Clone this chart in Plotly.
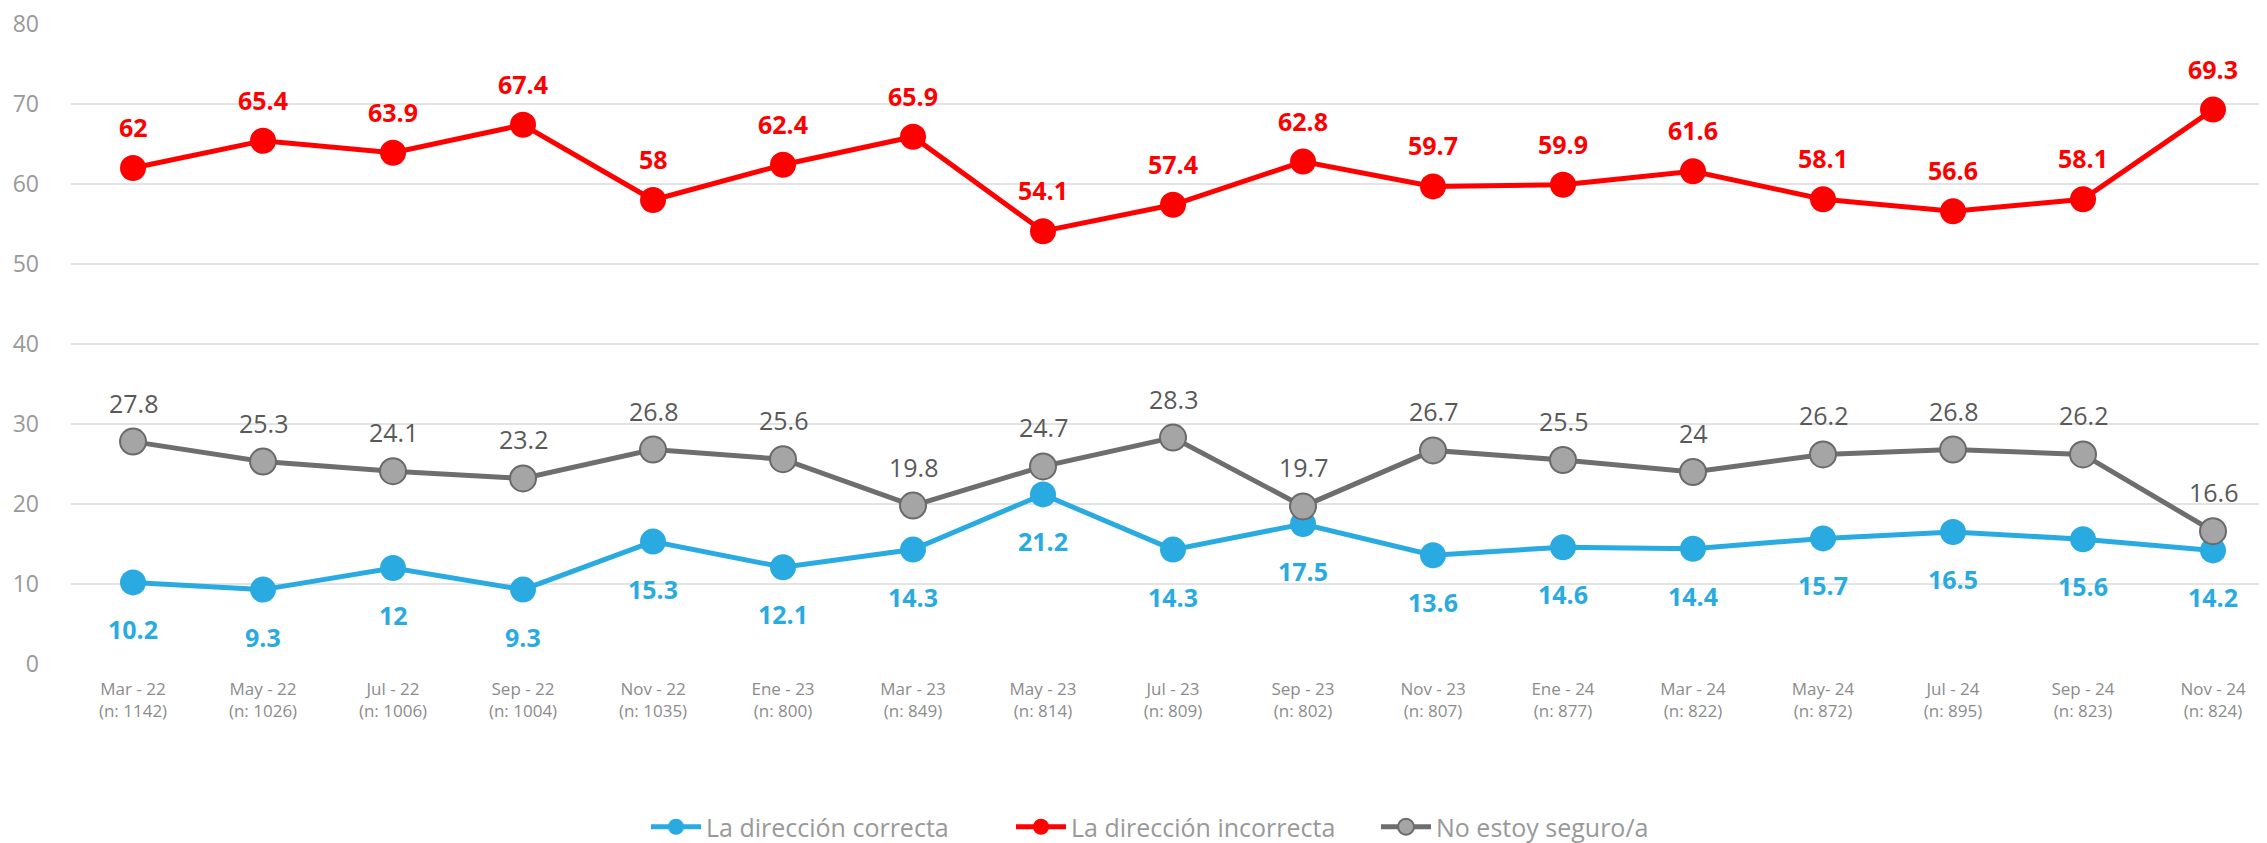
import plotly.graph_objects as go

categories = ["Mar - 22<br>(n: 1142)", "May - 22<br>(n: 1026)", "Jul - 22<br>(n: 1006)", "Sep - 22<br>(n: 1004)",
              "Nov - 22<br>(n: 1035)", "Ene - 23<br>(n: 800)", "Mar - 23<br>(n: 849)", "May - 23<br>(n: 814)",
              "Jul - 23<br>(n: 809)", "Sep - 23<br>(n: 802)", "Nov - 23<br>(n: 807)", "Ene - 24<br>(n: 877)",
              "Mar - 24<br>(n: 822)", "May- 24<br>(n: 872)", "Jul - 24<br>(n: 895)", "Sep - 24<br>(n: 823)",
              "Nov - 24<br>(n: 824)"]
correcta = [10.2, 9.3, 12, 9.3, 15.3, 12.1, 14.3, 21.2, 14.3, 17.5, 13.6, 14.6, 14.4, 15.7, 16.5, 15.6, 14.2]
incorrecta = [62, 65.4, 63.9, 67.4, 58, 62.4, 65.9, 54.1, 57.4, 62.8, 59.7, 59.9, 61.6, 58.1, 56.6, 58.1, 69.3]
no_seguro = [27.8, 25.3, 24.1, 23.2, 26.8, 25.6, 19.8, 24.7, 28.3, 19.7, 26.7, 25.5, 24, 26.2, 26.8, 26.2, 16.6]
y_ticks = [0, 10, 20, 30, 40, 50, 60, 70, 80]

FONT = "Open Sans, sans-serif"
BLUE = "#29ABE2"
RED = "#FF0000"
GRAY_LINE = "#6E6E6E"
GRAY_FILL = "#A5A5A5"

# page body has an 8px default margin; size the figure to fill the rest of the window
W, H = 2259, 835

x = list(range(len(categories)))
fig = go.Figure()

fig.add_trace(go.Scatter(x=x, y=correcta, name="La dirección correcta", mode="lines+markers",
                         line=dict(color=BLUE, width=5), marker=dict(size=26, color=BLUE)))
fig.add_trace(go.Scatter(x=x, y=incorrecta, name="La dirección incorrecta", mode="lines+markers",
                         line=dict(color=RED, width=5), marker=dict(size=26, color=RED)))
fig.add_trace(go.Scatter(x=x, y=no_seguro, name="No estoy seguro/a", mode="lines+markers",
                         line=dict(color=GRAY_LINE, width=5),
                         marker=dict(size=26, color=GRAY_FILL, line=dict(color="#6A6A6A", width=2))))

annotations = []
for xi, v in zip(x, correcta):
    annotations.append(dict(x=xi, y=v, text=f"<b>{v:g}</b>", showarrow=False, yshift=-47,
                            font=dict(family=FONT, size=25, color=BLUE)))
for xi, v in zip(x, incorrecta):
    annotations.append(dict(x=xi, y=v, text=f"<b>{v:g}</b>", showarrow=False, yshift=41,
                            font=dict(family=FONT, size=25, color=RED)))
for xi, v in zip(x, no_seguro):
    annotations.append(dict(x=xi, y=v, text=f"{v:g}", showarrow=False, yshift=39,
                            font=dict(family=FONT, size=25, color="#595959")))

fig.update_layout(
    width=W, height=H,
    margin=dict(l=63, r=2, t=16, b=179, autoexpand=False),
    plot_bgcolor="white", paper_bgcolor="white",
    font=dict(family=FONT, color="#8C8C8C"),
    showlegend=True,
    legend=dict(orientation="h", xref="container", yref="container",
                x=638 / W, xanchor="left", y=(H - 819) / H, yanchor="middle",
                font=dict(family=FONT, size=25, color="#999999"), itemwidth=50,
                entrywidth=300, entrywidthmode="pixels"),
    annotations=annotations,
    xaxis=dict(tickmode="array", tickvals=x, ticktext=categories, range=[-0.477, 16.4],
               showgrid=False, zeroline=False, showline=False, ticks="", ticklabelstandoff=13,
               tickfont=dict(family=FONT, size=17, color="#8C8C8C")),
    yaxis=dict(range=[0, 80], tickvals=y_ticks, showgrid=True, gridcolor="#E3E3E3", gridwidth=2,
               zeroline=False, showline=False, ticks="", ticklabelstandoff=31,
               ticklabeloverflow="allow",
               tickfont=dict(family=FONT, size=23, color="#999999")),
)

fig.write_html("out.html")
